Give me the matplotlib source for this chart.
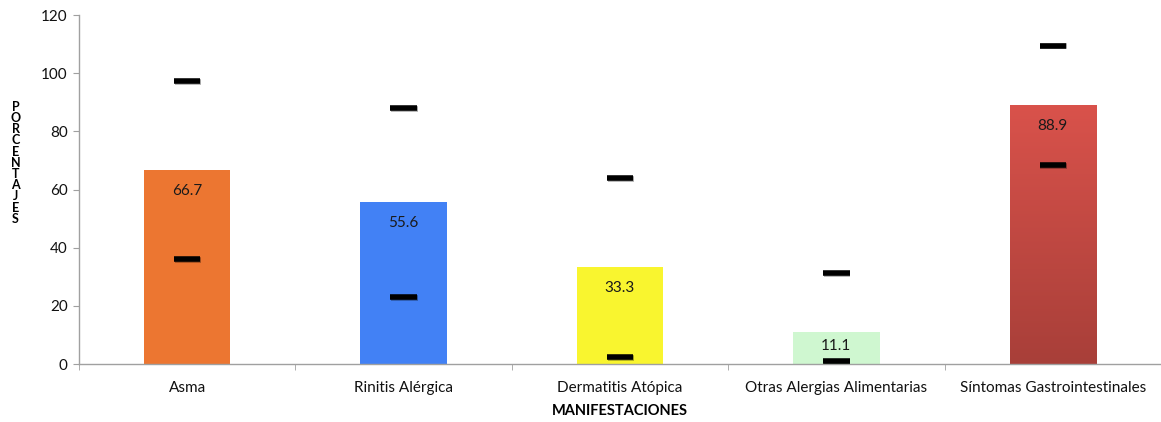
import numpy as np
import matplotlib
matplotlib.use("Agg")
import matplotlib.pyplot as plt
import matplotlib.patheffects as pe
from matplotlib.colors import LinearSegmentedColormap

plt.rcParams["font.family"] = ["Lato", "DejaVu Sans"]

categories = ["Asma", "Rinitis Alérgica", "Dermatitis Atópica",
              "Otras Alergias Alimentarias", "Síntomas Gastrointestinales"]
values = [66.7, 55.6, 33.3, 11.1, 88.9]
ci_upper = [97.3, 88.0, 63.8, 31.4, 109.5]
ci_lower = [36.0, 23.0, 2.5, 0.9, 68.4]
bar_colors = ["#ec7631", "#4281f5", "#f9f52f", "#cff7d0", "#d4504a"]
yticks = [0, 20, 40, 60, 80, 100, 120]

AXIS_GRAY = "#a0a0a0"

fig = plt.figure(figsize=(11.61, 4.22), dpi=100)
ax = fig.add_axes([0.068, 0.1374, 0.932, 0.827])

x = np.arange(len(categories))
bars = ax.bar(x, values, width=0.4, color=bar_colors, zorder=2)

# vertical gradient on the last bar
grad = LinearSegmentedColormap.from_list("gi", ["#a83f39", "#d9524b"])
last = bars[-1]
img = ax.imshow(np.linspace(0, 1, 256).reshape(-1, 1), cmap=grad, aspect="auto",
                origin="lower", zorder=2,
                extent=[last.get_x(), last.get_x() + last.get_width(), 0, values[-1]])
img.set_clip_path(last)

# value labels sit just inside the top of each bar; short bars keep them centred
for xi, v in zip(x, values):
    ax.text(xi, v - min(7.2, v * 0.44), f"{v:.1f}", ha="center", va="center",
            fontsize=11, color="#1a1a1a", zorder=4)

shadow = [pe.SimpleLineShadow(offset=(0.6, -0.6), alpha=0.35), pe.Normal()]
for lim in (ci_upper, ci_lower):
    ax.plot(x, lim, linestyle="none", marker="_", markersize=19,
            markeredgewidth=4, color="black", zorder=5, path_effects=shadow)

ax.set_xlim(-0.5, len(categories) - 0.5)
ax.set_ylim(0, 120)
ax.set_yticks(yticks)
ax.set_xticks(x)
ax.set_xticklabels(categories, fontsize=11)
ax.set_xticks(np.arange(len(categories) + 1) - 0.5, minor=True)
ax.tick_params(axis="x", which="major", length=0, pad=12, colors="#111111")
ax.tick_params(axis="x", which="minor", length=4, color=AXIS_GRAY, direction="out")
ax.tick_params(axis="y", length=4, color=AXIS_GRAY, labelsize=11,
               labelcolor="#111111", pad=4)

for side in ("top", "right"):
    ax.spines[side].set_visible(False)
for side in ("left", "bottom"):
    ax.spines[side].set_color(AXIS_GRAY)
    ax.spines[side].set_linewidth(1)

ax.set_xlabel("MANIFESTACIONES", fontsize=10.5, fontweight="bold", labelpad=7)
fig.text(0.0135, 0.614, "\n".join("PORCENTAJES"), ha="center", va="center",
         fontsize=9, fontweight="bold", linespacing=0.92)

fig.savefig("out.png", facecolor="white")
